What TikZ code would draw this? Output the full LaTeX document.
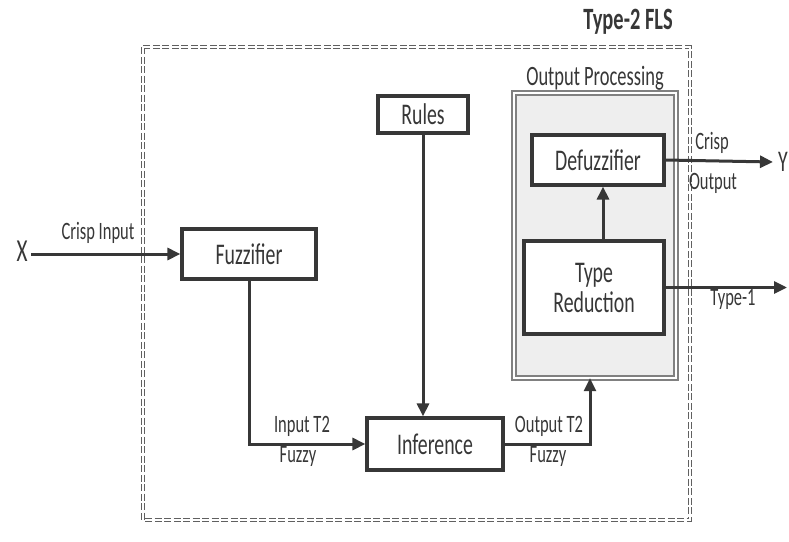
\documentclass[tikz,border=0pt]{standalone}
\usepackage{fontspec}
\setmainfont[FakeStretch=0.66]{Carlito}
\usepackage{tikz}
\usetikzlibrary{arrows,arrows.meta,shapes,positioning}
\usepackage{xcolor}
\definecolor{flsgray}{RGB}{55,55,55}
\definecolor{procfill}{RGB}{238,238,238}
\tikzstyle{block} = [draw=flsgray, line width=3.2pt, fill=white, font=\fontsize{30}{32}\selectfont, text=flsgray, align=center]
\tikzstyle{sigarrow} = [line width=3pt, ->, >={Triangle[length=13pt,width=12pt]}, color=flsgray]
\tikzstyle{lbl} = [font=\fontsize{25}{27}\selectfont, text=flsgray, inner sep=0pt]

\begin{document}
\begin{tikzpicture}[x=1pt, y=-1pt]
    \useasboundingbox (0,0) rectangle (789,541);

    % Type-2 FLS border
    \draw[gray!75!black, line width=1.5pt, double, double distance=1.8pt, dash pattern=on 7pt off 2.5pt] (143,47) rectangle (690,520);
    \node[lbl, font=\fontsize{31}{32}\selectfont\bfseries] (flslabel) at (628,22) {Type-2 FLS};

    % Output processing panel
    \draw[gray, line width=1.3pt, double, double distance=2.5pt, fill=procfill] (514,93) rectangle (676,378);
    \node[draw=none, minimum width=162, minimum height=285, inner sep=0pt] (outproc) at (595,235.5) {};
    \node[lbl, font=\fontsize{28}{29}\selectfont] (proclabel) at (595,78) {Output Processing};

    % Blocks
    \node[block, minimum width=134, minimum height=50] (fuzz) at (249,254) {Fuzzifier};
    \node[block, minimum width=90, minimum height=37] (rules) at (423,114.5) {Rules};
    \node[block, minimum width=136, minimum height=52] (inf) at (435,444) {Inference};
    \node[block, minimum width=132, minimum height=50] (defuzz) at (598,160) {Defuzzifier};
    \node[block, minimum width=140, minimum height=93] (tr) at (594,287.5) {Type\\[-2pt]Reduction};

    % Inputs and outputs
    \node[font=\fontsize{32}{34}\selectfont, text=flsgray] (xin) at (22,251) {X};
    \node[font=\fontsize{30}{32}\selectfont, text=flsgray, anchor=east, inner sep=0pt] (yout) at (788,162) {Y};
    \coordinate (tout) at (787,285);

    % Connectors
    \draw[sigarrow] (xin.east |- fuzz.west) -- (fuzz.west);
    \draw[sigarrow] (fuzz.south) |- (inf.west);
    \draw[sigarrow] (rules.south) -- (rules.south |- inf.north);
    \draw[sigarrow] (inf.east) -| ([xshift=-5]outproc.south);
    \draw[sigarrow] ([xshift=9]tr.north) -- ([xshift=9]tr.north |- defuzz.south);
    \draw[sigarrow] (defuzz.east) -- ([xshift=-5]yout.west);
    \draw[sigarrow] (tr.east) -- (tr.east -| tout);

    % Signal labels
    \node[lbl] (crispin) at (98,233) {Crisp Input};
    \node[lbl] (int2) at (302,426) {Input T2};
    \node[lbl] (infuzzy) at (298,456) {Fuzzy};
    \node[lbl] (outt2) at (549,426) {Output T2};
    \node[lbl] (outfuzzy) at (548,456) {Fuzzy};
    \node[lbl] (crisp) at (712,143) {Crisp};
    \node[lbl] (crispout) at (713,183) {Output};
    \node[lbl] (type1) at (733,299) {Type-1};
\end{tikzpicture}
\end{document}
